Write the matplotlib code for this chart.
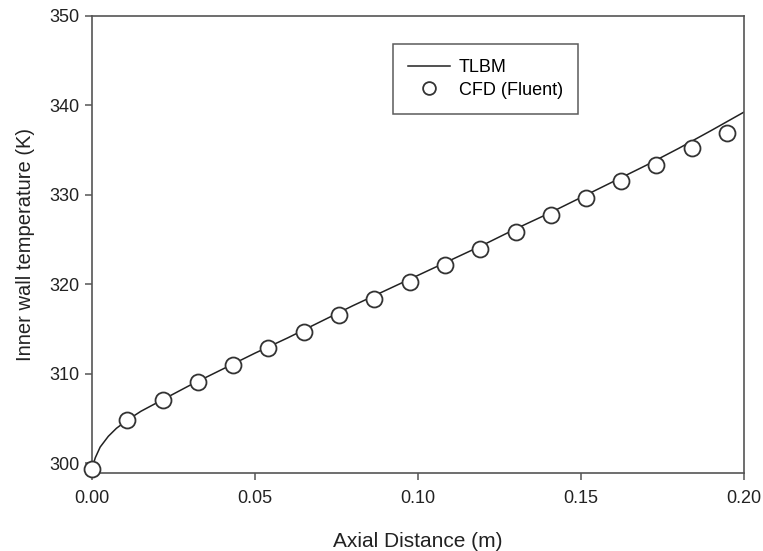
import numpy as np
import matplotlib.pyplot as plt

plt.rcParams['font.family'] = ['Liberation Sans', 'DejaVu Sans']

# TLBM curve
tlbm_x = [0.0, 0.001, 0.0025, 0.005, 0.0075, 0.0108, 0.015, 0.0217, 0.03, 0.04,
          0.05, 0.06, 0.07, 0.08, 0.09, 0.10, 0.11, 0.12, 0.13, 0.14,
          0.15, 0.16, 0.17, 0.18, 0.19, 0.20]
tlbm_y = [299.4, 300.6, 301.8, 303.0, 303.9, 304.8, 305.8, 307.1, 308.7, 310.5,
          312.3, 314.0, 315.8, 317.6, 319.3, 321.0, 322.7, 324.4, 326.2, 327.9,
          329.7, 331.5, 333.3, 335.2, 337.2, 339.25]

# CFD (Fluent) points
cfd_x = [0.0, 0.0108, 0.0217, 0.0325, 0.0433, 0.054, 0.065, 0.0758, 0.0866, 0.0975,
         0.1083, 0.119, 0.13, 0.1407, 0.1515, 0.1623, 0.173, 0.184, 0.1948]
cfd_y = [299.4, 304.8, 307.1, 309.1, 311.0, 312.9, 314.7, 316.6, 318.4, 320.3,
         322.2, 324.0, 325.9, 327.8, 329.6, 331.5, 333.3, 335.2, 336.9]

fig = plt.figure(figsize=(7.63, 5.51), dpi=100)
ax = fig.add_axes([0.1206, 0.1416, 0.8544, 0.8294])

ax.plot(tlbm_x, tlbm_y, color='#222222', lw=1.1, label='TLBM')
ax.plot(cfd_x, cfd_y, ls='none', marker='o', ms=11.5, mfc='white', mec='#333333',
        mew=1.3, label='CFD (Fluent)', clip_on=False, zorder=3)

ax.set_xlim(0, 0.20)
ax.set_ylim(298.9, 350)
ax.set_xticks([0.0, 0.05, 0.10, 0.15, 0.20])
ax.set_xticklabels(['0.00', '0.05', '0.10', '0.15', '0.20'])
ax.set_yticks([300, 310, 320, 330, 340, 350])

for s in ax.spines.values():
    s.set_color('#555555')
    s.set_linewidth(1.2)
ax.tick_params(direction='out', length=5, width=1.1, color='#555555',
               labelsize=13, labelcolor='#222222', pad=4)
ax.tick_params(axis='x', pad=7)

ax.set_xlabel('Axial Distance (m)', fontsize=15, color='#222222', labelpad=18)
ax.set_ylabel('Inner wall temperature (K)', fontsize=14.5, color='#222222', labelpad=10)

leg = ax.legend(loc='upper left', bbox_to_anchor=(393 / 763, 1 - 44 / 551),
                bbox_transform=fig.transFigure, fontsize=13, frameon=True,
                fancybox=False, edgecolor='#333333', handlelength=2.3,
                borderpad=0.85, labelspacing=0.3, handletextpad=0.5,
                markerscale=0.8, borderaxespad=0)
leg.get_frame().set_linewidth(1.1)

fig.savefig('out.png', dpi=100)
